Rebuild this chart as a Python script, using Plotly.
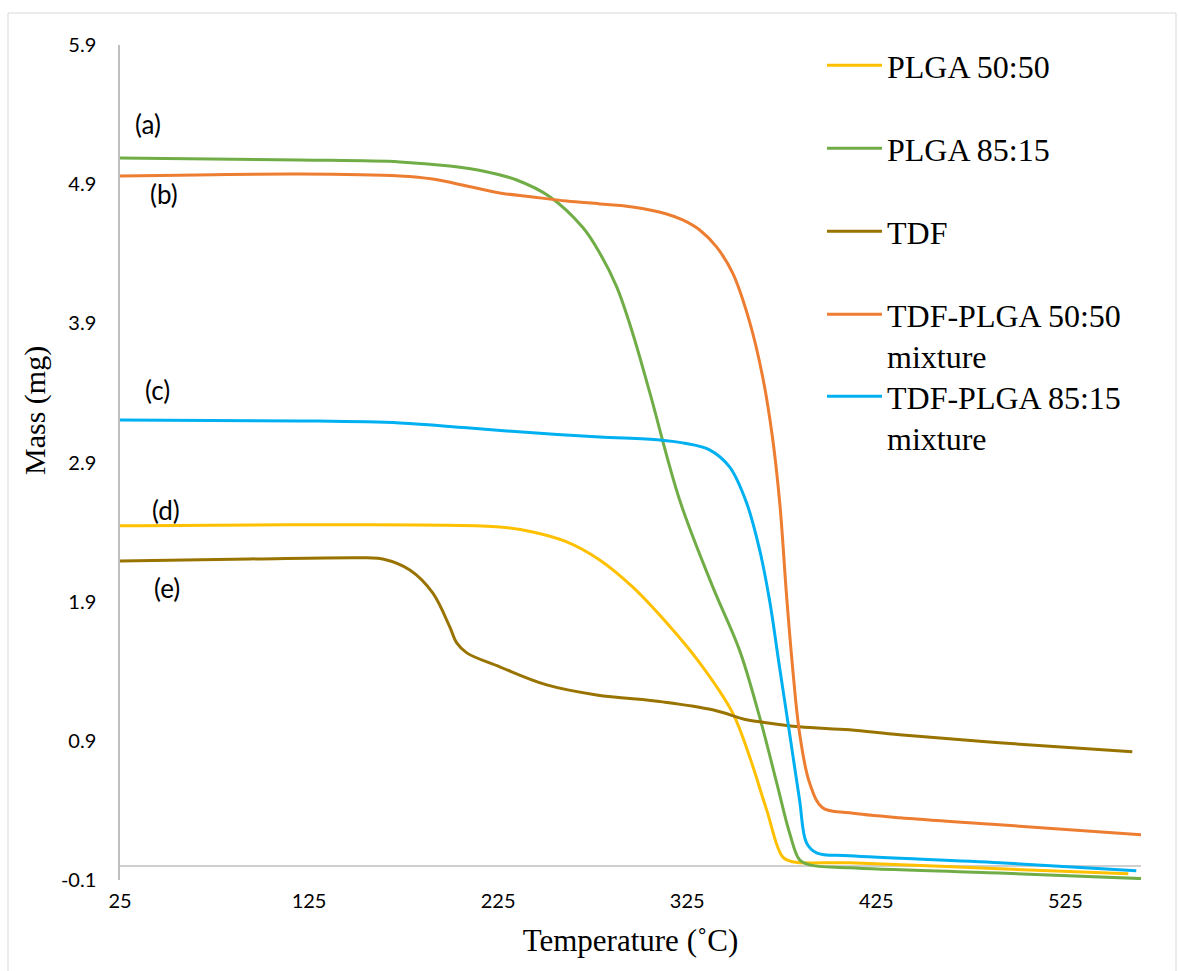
import plotly.graph_objects as go

# ---------------- data ----------------
temp_plga5050 = [25, 120.1, 225.8, 243.3, 261.3, 278.7, 296.1, 314.1, 331.6, 349.0, 358.0, 367.0, 375.4, 380.7, 410.8, 490.1, 558.3]
mass_plga5050 = [2.445, 2.452, 2.437, 2.401, 2.33, 2.2, 2.006, 1.748, 1.46, 1.101, 0.785, 0.404, 0.067, 0.031, 0.024, -0.02, -0.055]

temp_plga8515 = [25, 120, 173, 199.4, 216.9, 234.8, 252.3, 269.7, 278.7, 287.7, 296.1, 305.1, 321.0, 338.4, 352.7, 363.3, 372.3, 379.1, 384.4, 389.7, 410.8, 490.0, 565.0]
mass_plga8515 = [5.088, 5.074, 5.06, 5.03, 4.995, 4.93, 4.81, 4.59, 4.406, 4.162, 3.831, 3.407, 2.63, 2.01, 1.55, 1.07, 0.60, 0.24, 0.045, 0.009, -0.012, -0.05, -0.09]

temp_tdf = [25, 93.7, 155.5, 164.0, 178.3, 190.4, 199.4, 203.1, 208.4, 225.8, 250.7, 277.1, 312.0, 338.4, 356.4, 363.3, 384.4, 410.8, 437.3, 490.1, 560.4]
mass_tdf = [2.193, 2.207, 2.215, 2.207, 2.128, 1.963, 1.719, 1.604, 1.532, 1.432, 1.302, 1.23, 1.18, 1.123, 1.051, 1.037, 1.001, 0.979, 0.943, 0.886, 0.821]

temp_mix5050 = [25, 120, 173, 190.4, 208.4, 225.8, 243.3, 261.3, 278.7, 296.1, 314.1, 322.6, 331.6, 340.5, 349.0, 358.0, 364.9, 370.1, 374.0, 377.5, 380.7, 384.4, 389.7, 396.6, 410.8, 437.3, 490.1, 565.0]
mass_mix5050 = [4.959, 4.973, 4.959, 4.937, 4.887, 4.837, 4.808, 4.779, 4.758, 4.736, 4.686, 4.643, 4.571, 4.449, 4.262, 3.910, 3.515, 3.08, 2.6, 1.95, 1.432, 0.957, 0.598, 0.419, 0.383, 0.347, 0.297, 0.225]

temp_mix8515 = [25, 120.1, 173, 208.4, 243.3, 278.7, 310.4, 322.6, 336.8, 347.4, 356.4, 363.3, 368.5, 373.8, 379.1, 384.4, 388.1, 393.4, 410.8, 490.1, 562.5]
mass_mix8515 = [3.206, 3.199, 3.184, 3.149, 3.113, 3.084, 3.062, 3.041, 2.991, 2.868, 2.61, 2.272, 1.913, 1.432, 0.957, 0.476, 0.167, 0.095, 0.074, 0.024, -0.034]

series_names = ["PLGA 50:50", "PLGA 85:15", "TDF", "TDF-PLGA 50:50<br>mixture", "TDF-PLGA 85:15<br>mixture"]
series_colors = ["#FFC000", "#70AD47", "#997300", "#ED7D31", "#00B0F0"]
series_temps = [temp_plga5050, temp_plga8515, temp_tdf, temp_mix5050, temp_mix8515]
series_mass = [mass_plga5050, mass_plga8515, mass_tdf, mass_mix5050, mass_mix8515]

x_ticks = [25, 125, 225, 325, 425, 525]
y_ticks = [-0.1, 0.9, 1.9, 2.9, 3.9, 4.9, 5.9]

curve_labels = ["(a)", "(b)", "(c)", "(d)", "(e)"]
label_x = [39.8, 48.3, 44.6, 49.3, 49.8]
label_y = [5.332, 4.83, 3.422, 2.56, 2.0]

# ---------------- figure ----------------
W, H = 1178, 971
L, R, T, B = 120, 37, 45, 91
PW, PH = W - L - R, H - T - B

fig = go.Figure()
legend_ids = ["legend", "legend2", "legend3", "legend4", "legend5"]
for name, col, xs, ys, lg in zip(series_names, series_colors, series_temps, series_mass, legend_ids):
    fig.add_trace(go.Scatter(
        x=xs, y=ys, mode="lines", name=name,
        line=dict(color=col, width=3, shape="spline", smoothing=1.0),
        legend=lg,
    ))

for t, xv, yv in zip(curve_labels, label_x, label_y):
    fig.add_annotation(x=xv, y=yv, xref="x", yref="y", text=t, showarrow=False,
                       font=dict(family="Lato", size=26, color="#000000"))

# y-axis title as annotation (not centred on plot)
fig.add_annotation(x=(35 - L) / PW, xref="paper", xanchor="center",
                   y=(H - B - 411) / PH, yref="paper", yanchor="middle",
                   text="Mass (mg)", textangle=-90, showarrow=False,
                   font=dict(family="Liberation Serif", size=30, color="#000000"))

# x axis line crossing at y = 0
fig.add_shape(type="line", xref="x", yref="y", x0=25, x1=565, y0=0, y1=0,
              line=dict(color="#BFBFBF", width=1.5), layer="below")
# outer chart border
fig.add_shape(type="rect", xref="paper", yref="paper",
              x0=(8 - L) / PW, x1=(1176 - L) / PW,
              y0=(H - B - 990) / PH, y1=(H - B - 13) / PH,
              line=dict(color="#D9D9D9", width=1), layer="below")

legend_centers = [67, 150, 233, 316, 398]
legend_font = dict(family="Liberation Serif", size=32, color="#000000")
layout_legends = {}
for lg, cy in zip(legend_ids, legend_centers):
    layout_legends[lg] = dict(
        x=822 / W, xref="container", xanchor="left",
        y=1 - (cy - 29) / H, yref="container", yanchor="top",
        font=legend_font, bgcolor="rgba(0,0,0,0)", valign="top",
        itemwidth=55, tracegroupgap=0,
    )

fig.update_layout(
    width=W, height=H,
    margin=dict(l=L, r=R, t=T, b=B, autoexpand=False),
    paper_bgcolor="white", plot_bgcolor="white",
    showlegend=True,
    xaxis=dict(
        range=[25, 565], tickvals=x_ticks, ticktext=[str(v) for v in x_ticks],
        showgrid=False, zeroline=False, showline=False, ticks="",
        ticklabelstandoff=7,
        tickfont=dict(family="Lato", size=20, color="#000000"),
        title=dict(text="Temperature (˚C)", font=dict(family="Liberation Serif", size=31, color="#000000"), standoff=18),
        automargin=False,
    ),
    yaxis=dict(
        range=[-0.1, 5.9], tickvals=y_ticks, ticktext=[f"{v:.1f}" for v in y_ticks],
        showgrid=False, zeroline=False, showline=True, linecolor="#BFBFBF", linewidth=1.5,
        ticks="", ticklabelstandoff=18,
        tickfont=dict(family="Lato", size=20, color="#000000"),
        automargin=False,
    ),
    **layout_legends,
)

fig.write_html("out.html")
